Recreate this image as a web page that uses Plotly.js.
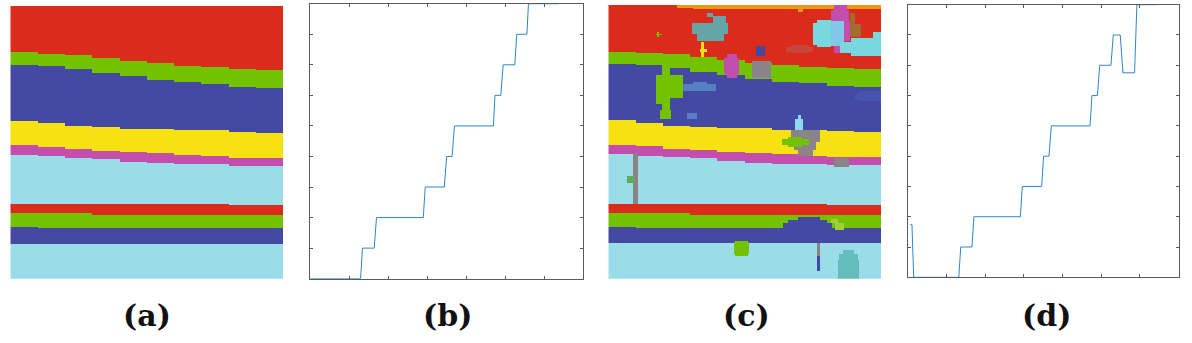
<!DOCTYPE html>
<html>
<head>
<meta charset="utf-8">
<script src="https://cdn.plot.ly/plotly-3.0.1.min.js"></script>
<style>html,body{margin:0;padding:0;background:#fff;}#fig{width:1192px;height:343px;}</style>
</head>
<body>
<div id="fig"></div>
<script>
// ---------- class colours of the segmentation maps ----------
const classNames = ["red","green","blue","yellow","magenta","cyan","orange","teal","gray","lightcyan","lightblue","brown","steelblue","mutedred","sky","tealbottom","yellowgreen","mutedgreen","blue2"];
const classColors = ["#DB2B1B","#73C200","#4449A4","#F5E210","#C44EAD","#9ADDE8","#F29510","#65A5A7","#8A8388","#79D8DD","#80C8E6","#A26C2E","#5580C3","#C9453E","#8ED8F2","#63BDBA","#A2CF3C","#5BAD58","#4A53AD"];

// ---------- band layout (top to bottom) read at column centres u = 5,15,...,95 ----------
const bandClasses = [0, 1, 2, 3, 4, 5, 0, 1, 2, 5];
const bandColumns = [5, 15, 25, 35, 45, 55, 65, 75, 85, 95];
const bRedGreen     = [16.9, 17.4, 18.2, 19.2, 20.0, 21.0, 21.9, 22.6, 23.2, 23.7];
const bGreenBlue    = [21.5, 21.9, 22.9, 24.3, 25.6, 26.8, 27.9, 28.7, 29.4, 30.2];
const bBlueYellow   = [42.0, 43.0, 44.0, 44.6, 45.0, 45.2, 45.4, 45.7, 46.2, 46.6];
const bYellowMag    = [51.2, 51.7, 52.4, 53.1, 53.6, 54.1, 54.6, 55.0, 55.4, 55.5];
const bMagCyan      = [54.3, 55.0, 55.6, 56.2, 56.8, 57.4, 57.9, 58.2, 58.5, 58.6];
const bCyanRed      = [72.5, 72.5, 72.6, 72.6, 72.6, 72.7, 72.7, 72.7, 72.8, 72.8];
const bRedGreen2    = [76.0, 76.1, 76.2, 76.3, 76.3, 76.4, 76.5, 76.5, 76.6, 76.7];
const bGreenBlue2   = [81.2, 81.3, 81.3, 81.4, 81.5, 81.5, 81.6, 81.6, 81.7, 81.7];
const bBlueCyan     = [86.8, 86.8, 86.8, 86.8, 86.8, 86.8, 86.8, 86.8, 86.8, 86.8];

// ---------- extra segments in panel (c): [class, u0, u1, v0, v1] ----------
const segmentsC = [
  [6, 25, 31, 0, 1.0], [6, 31, 100, 0, 1.6], [6, 69.5, 71.5, 1.6, 2.6],
  [7, 36, 38.5, 3.1, 4.6], [7, 38.5, 42.8, 4.2, 6.4], [7, 30.7, 43.8, 6.4, 10.6], [7, 32.5, 42.5, 10.6, 12.8],
  [1, 17.3, 19.3, 10.3, 11.1], [1, 17.9, 18.7, 9.9, 11.5],
  [3, 34.0, 35.0, 13.4, 18.8], [3, 33.4, 35.8, 15.8, 16.8],
  [4, 43.5, 47, 18.2, 19.6], [4, 42.3, 48, 19.6, 25.2], [4, 43.5, 47, 25.2, 26.5],
  [8, 52.5, 59.3, 20.7, 26.4],
  [2, 54, 57.7, 15.1, 18.7],
  [13, 67, 73, 14.6, 17.6], [13, 64.9, 75.1, 15.4, 16.8],
  [9, 75, 81.5, 6.5, 14.5], [9, 76.5, 81.5, 5.5, 15.5],
  [10, 81.5, 86.3, 6.2, 15.2],
  [4, 82.5, 87.5, 0, 2], [4, 81.6, 88.2, 2, 6.2], [4, 86.3, 88.6, 6.2, 13], [4, 82.4, 85.7, 15.2, 17.4],
  [11, 88.6, 90.6, 3, 7], [11, 88.6, 92.6, 7, 11.4],
  [9, 96.9, 100, 10.2, 18.5], [9, 88.9, 100, 12, 18.5], [9, 85.2, 88.9, 13.3, 17.6],
  [18, 92, 99.9, 31.5, 35.2], [18, 90.7, 100, 32.3, 34.5],
  [12, 27.5, 39.6, 29.2, 31.6], [12, 31, 36, 28.1, 29.2],
  [12, 29.1, 32.5, 39.3, 41.3],
  [1, 19.3, 22.5, 21.8, 25.3], [1, 17.4, 22.5, 25.3, 36], [1, 22.5, 27.5, 25.3, 33.8], [1, 19.3, 22.5, 36, 38.6], [1, 19.2, 22.8, 38.6, 41.3],
  [14, 69.4, 70.6, 40.1, 41.5], [14, 68.3, 71.6, 41.5, 46], [14, 69.4, 70.6, 46, 47.1],
  [8, 67.2, 77.4, 45.7, 50], [8, 68, 76, 50, 53], [8, 69.5, 75.2, 53, 54.8],
  [1, 66, 71, 48.1, 49], [1, 63.6, 73.3, 49, 51], [1, 66, 71, 51, 51.8],
  [8, 82.6, 88, 56, 59.2],
  [8, 8.8, 11, 54.2, 72.6],
  [17, 7.2, 9.5, 62.5, 64.9],
  [2, 69.3, 77.3, 77.5, 78.5], [2, 66, 80, 78.5, 79.5], [2, 64.2, 81.8, 79.5, 81.6],
  [16, 81.5, 84, 78, 79.5], [16, 83, 86.4, 79.5, 81.8],
  [8, 76.4, 77.3, 86.8, 91.7], [2, 76.4, 77.3, 91.7, 96.8],
  [15, 86, 90, 89.3, 91], [15, 84.5, 91.5, 91, 93], [15, 83.8, 91.9, 93, 100],
  [1, 46.7, 51, 85.9, 86.6], [1, 46.2, 51.6, 86.6, 91], [1, 46.7, 51, 91, 91.7]
];

// ---------- step curves of panels (b) and (d) ----------
const xB = [0, 1.29, 1.34, 1.64, 1.70, 2.90, 2.95, 3.44, 3.50, 3.64, 3.70, 4.70, 4.74, 4.89, 4.95, 5.25, 5.30, 5.56, 5.60, 6.37];
const yB = [0, 0, 1, 1, 2, 2, 3, 3, 4, 4, 5, 5, 6, 6, 7, 7, 8, 8, 9, 9];
const xD = [0.07, 0.11, 0.155, 1.32, 1.37, 1.66, 1.71, 2.91, 2.96, 3.46, 3.51, 3.65, 3.71, 4.71, 4.76, 4.90, 4.96, 5.25, 5.31, 5.49, 5.56, 5.86, 5.92, 6.40];
const yD = [1.74, 1.74, 0, 0, 1, 1, 2, 2, 3, 3, 4, 4, 5, 5, 6, 6, 7, 7, 8, 8, 6.75, 6.75, 9, 9];
const xTicks = [1, 2, 3, 4, 5, 6];
const yTicks = [1, 2, 3, 4, 5, 6, 7, 8];
const panelLabels = ["(a)", "(b)", "(c)", "(d)"];

// ---------- build class grids ----------
const N = 200, CELL = 100 / N;
const boundaries = [bRedGreen, bGreenBlue, bBlueYellow, bYellowMag, bMagCyan, bCyanRed, bRedGreen2, bGreenBlue2, bBlueCyan];
function baseGrid() {
  const z = [];
  for (let r = 0; r < N; r++) {
    const v = (r + 0.5) * CELL, row = [];
    for (let c = 0; c < N; c++) {
      const u = (c + 0.5) * CELL;
      let k = 0, best = 1e9;
      bandColumns.forEach((bc, i) => { const d = Math.abs(bc - u); if (d < best) { best = d; k = i; } });
      let b = 0;
      while (b < boundaries.length && v >= boundaries[b][k]) b++;
      row.push(bandClasses[b]);
    }
    z.push(row);
  }
  return z;
}
const zA = baseGrid();
const zC = baseGrid();
segmentsC.forEach(([cls, u0, u1, v0, v1]) => {
  for (let r = 0; r < N; r++) {
    const v = (r + 0.5) * CELL;
    if (v < v0 || v > v1) continue;
    for (let c = 0; c < N; c++) {
      const u = (c + 0.5) * CELL;
      if (u >= u0 && u <= u1) zC[r][c] = cls;
    }
  }
});

const K = classColors.length;
const cscale = [];
classColors.forEach((col, i) => { cscale.push([i / K, col]); cscale.push([(i + 1) / K, col]); });

function heat(z, xa, ya) {
  return { type: "heatmap", z: z, x0: CELL / 2, dx: CELL, y0: CELL / 2, dy: CELL,
    colorscale: cscale, zmin: -0.5, zmax: K - 0.5, showscale: false, zsmooth: false,
    xaxis: xa, yaxis: ya, hoverinfo: "skip" };
}
const lineColor = "#2F86C8";
const traces = [
  heat(zA, "x", "y"),
  { type: "scatter", mode: "lines", x: xB, y: yB, xaxis: "x2", yaxis: "y2", line: { color: lineColor, width: 1 }, cliponaxis: false, hoverinfo: "skip" },
  heat(zC, "x3", "y3"),
  { type: "scatter", mode: "lines", x: xD, y: yD, xaxis: "x4", yaxis: "y4", line: { color: lineColor, width: 1 }, cliponaxis: false, hoverinfo: "skip" }
];

const W = 1192, H = 343;
function px(a, b) { return [a / W, b / W]; }
function py(top, bottom) { return [1 - bottom / H, 1 - top / H]; }
const imgAxis = (dom, anchor, rng) => ({ domain: dom, anchor: anchor, range: rng, visible: false, showgrid: false, zeroline: false, fixedrange: true });
const plotAxis = (dom, anchor, rng, tv) => ({ domain: dom, anchor: anchor, range: rng, showgrid: false, zeroline: false,
  showline: true, mirror: "ticks", linecolor: "#5a5a5a", linewidth: 1, ticks: "inside", ticklen: 3, tickwidth: 1,
  tickcolor: "#5a5a5a", tickvals: tv, showticklabels: false, fixedrange: true });

const labelX = [147, 447, 746, 1046];
const layout = {
  width: W, height: H, margin: { l: 0, r: 0, t: 0, b: 0 }, paper_bgcolor: "#fff", plot_bgcolor: "#fff", showlegend: false,
  xaxis:  imgAxis(px(10.3, 283), "y", [0, 100]),
  yaxis:  imgAxis(py(6, 278.7), "x", [100, 0]),
  xaxis2: plotAxis(px(310.3, 583), "y2", [0, 7], xTicks),
  yaxis2: plotAxis(py(3.7, 278.7), "x2", [0, 9], yTicks),
  xaxis3: imgAxis(px(608.3, 881), "y3", [0, 100]),
  yaxis3: imgAxis(py(5, 278.7), "x3", [100, 0]),
  xaxis4: plotAxis(px(907.7, 1178.7), "y4", [0, 7], xTicks),
  yaxis4: plotAxis(py(4.7, 277.3), "x4", [0, 9], yTicks),
  annotations: panelLabels.map((t, i) => ({ text: t, xref: "paper", yref: "paper", x: labelX[i] / W, y: 1 - 315 / H,
    xanchor: "center", yanchor: "middle", showarrow: false,
    font: { family: "DejaVu Serif", size: 30, color: "#111", weight: "bold" } }))
};
Plotly.newPlot("fig", traces, layout, { displayModeBar: false, staticPlot: true });
</script>
</body>
</html>
